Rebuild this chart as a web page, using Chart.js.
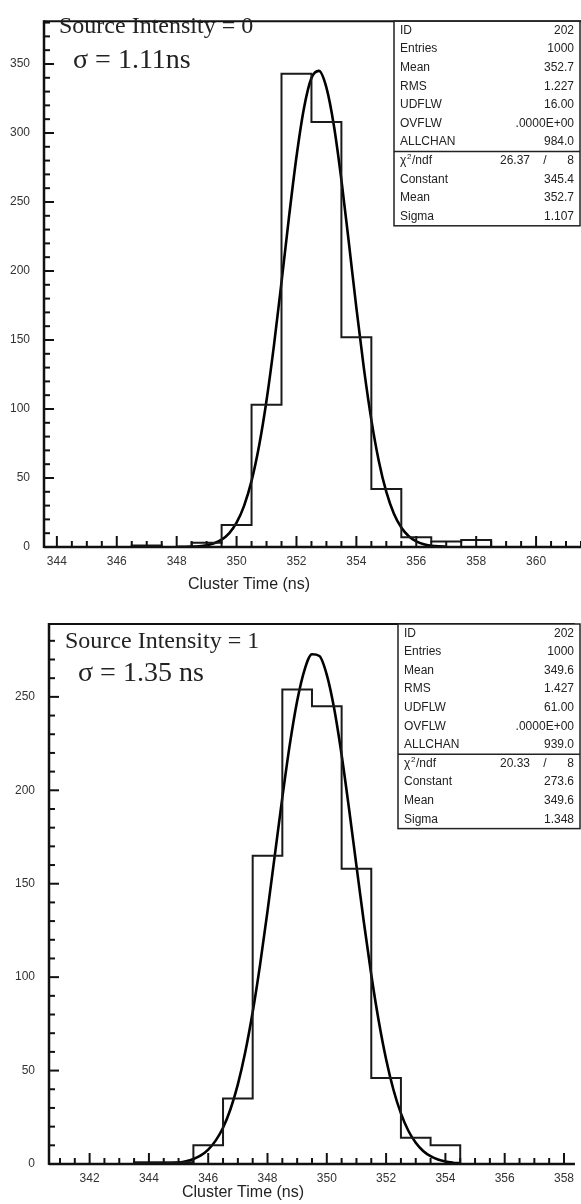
<!DOCTYPE html>
<html>
<head>
<meta charset="utf-8">
<script src="https://cdn.jsdelivr.net/npm/chart.js@4.4.1/dist/chart.umd.min.js"></script>
<style>
  html, body { margin: 0; padding: 0; background: #fff; }
  #wrap { position: relative; width: 581px; height: 1204px; overflow: hidden; }
  canvas { position: absolute; left: 0; }
</style>
</head>
<body>
<div id="wrap">
  <canvas id="topChart" width="581" height="600" style="top:0"></canvas>
  <canvas id="botChart" width="581" height="604" style="top:600px"></canvas>
</div>
<script>
// ---- top panel: Source Intensity = 0
const topBins   = [347, 348, 349, 350, 351, 352, 353, 354, 355, 356, 357, 358];
const topCounts = [1, 0, 3, 16, 103, 343, 308, 152, 42, 7, 4, 5];
const topFitX = [348.0, 348.25, 348.5, 348.75, 349.0, 349.25, 349.5, 349.75,
  350.0, 350.25, 350.5, 350.75, 351.0, 351.25, 351.5, 351.75,
  352.0, 352.25, 352.5, 352.75, 353.0, 353.25, 353.5, 353.75,
  354.0, 354.25, 354.5, 354.75, 355.0, 355.25, 355.5, 355.75,
  356.0, 356.25, 356.5, 356.75, 357.0];
const topFitY = [0.04, 0.11, 0.26, 0.59, 1.3, 2.7, 5.3, 9.9,
  17.6, 29.8, 47.9, 73.2, 106.2, 146.5, 191.9, 239.0,
  282.8, 318.0, 339.8, 345.0, 332.9, 305.3, 266.0, 220.3,
  173.3, 129.6, 92.1, 62.2, 39.9, 24.3, 14.1, 7.8,
  4.1, 2.0, 0.95, 0.43, 0.18];
const topStatValues = ['202', '1000', '352.7', '1.227', '16.00', '.0000E+00', '984.0'];
const topChi2 = ['26.37', '8'];
const topFitValues = ['345.4', '352.7', '1.107'];
const topLabel = 'Source Intensity = 0';
const topSigma = 'σ = 1.11ns';

// ---- bottom panel: Source Intensity = 1
const botBins   = [344, 345, 346, 347, 348, 349, 350, 351, 352, 353, 354];
const botCounts = [1, 1, 10, 35, 165, 254, 245, 158, 46, 14, 10];
const botFitX = [344.0, 344.25, 344.5, 344.75, 345.0, 345.25, 345.5, 345.75,
  346.0, 346.25, 346.5, 346.75, 347.0, 347.25, 347.5, 347.75,
  348.0, 348.25, 348.5, 348.75, 349.0, 349.25, 349.5, 349.75,
  350.0, 350.25, 350.5, 350.75, 351.0, 351.25, 351.5, 351.75,
  352.0, 352.25, 352.5, 352.75, 353.0, 353.25, 353.5, 353.75,
  354.0, 354.25, 354.5];
const botFitY = [0.05, 0.10, 0.21, 0.42, 0.81, 1.5, 2.7, 4.6,
  7.7, 12.5, 19.4, 29.3, 42.6, 59.9, 81.3, 106.7,
  135.3, 165.7, 196.1, 224.3, 247.8, 264.5, 272.8, 271.9,
  261.8, 243.6, 218.9, 190.1, 159.6, 129.4, 101.3, 76.7,
  56.1, 39.6, 27.1, 17.8, 11.4, 7.0, 4.2, 2.4,
  1.3, 0.71, 0.37];
const botStatValues = ['202', '1000', '349.6', '1.427', '61.00', '.0000E+00', '939.0'];
const botChi2 = ['20.33', '8'];
const botFitValues = ['273.6', '349.6', '1.348'];
const botLabel = 'Source Intensity = 1';
const botSigma = 'σ = 1.35 ns';

const statNames = ['ID', 'Entries', 'Mean', 'RMS', 'UDFLW', 'OVFLW', 'ALLCHAN'];
const fitNames = ['Constant', 'Mean', 'Sigma'];
const axisTitle = 'Cluster Time (ns)';

const SANS = '"Liberation Sans", Arial, sans-serif';
const SERIF = '"Liberation Serif", "Times New Roman", serif';

function line(ctx, x1, y1, x2, y2) {
  ctx.beginPath(); ctx.moveTo(x1, y1); ctx.lineTo(x2, y2); ctx.stroke();
}

function decorPlugin(d, L) {
  return {
    id: 'decor',
    afterDraw(chart) {
      const { ctx, chartArea: a, scales: { x, y } } = chart;
      ctx.save();
      ctx.strokeStyle = '#111';
      // frame
      ctx.lineWidth = 2;
      line(ctx, a.left, a.top, a.right, a.top);
      ctx.lineWidth = 2.5;
      line(ctx, a.left, a.top - 1, a.left, a.bottom + 1);
      line(ctx, a.left, a.bottom, a.right, a.bottom);
      // inward ticks
      ctx.lineWidth = 2;
      for (let v = 0; v <= y.max; v += 10) {
        const py = y.getPixelForValue(v);
        line(ctx, a.left, py, a.left + (v % 50 === 0 ? 10 : 6), py);
      }
      for (let v = Math.ceil(x.min * 2) / 2; v <= x.max; v += 0.5) {
        const px = x.getPixelForValue(v);
        line(ctx, px, a.bottom, px, a.bottom - (v % 2 === 0 ? 11 : 6));
      }
      // annotation texts
      ctx.fillStyle = '#222';
      ctx.textBaseline = 'alphabetic';
      ctx.textAlign = 'left';
      ctx.font = '24px ' + SERIF;
      ctx.fillText(d.label, L.labelX, L.labelY);
      ctx.font = '28px ' + SERIF;
      ctx.fillText(d.sigma, L.sigmaX, L.sigmaY);
      ctx.font = '16px ' + SANS;
      ctx.textAlign = 'center';
      ctx.textBaseline = 'middle';
      ctx.fillText(axisTitle, L.titleX, L.titleY);

      // stats box
      const bx = L.boxX, by = a.top, bw = 580 - L.boxX, rh = 18.6;
      const bh = rh * 11;
      ctx.fillStyle = '#fff';
      ctx.fillRect(bx, by, bw, bh);
      ctx.strokeStyle = '#222';
      ctx.lineWidth = 1.5;
      ctx.strokeRect(bx, by, bw, bh);
      line(ctx, bx, by + rh * 7, bx + bw, by + rh * 7);
      ctx.fillStyle = '#222';
      ctx.font = '12px ' + SANS;
      ctx.textBaseline = 'middle';
      const lx = bx + 6, rx = 574;
      statNames.forEach((n, i) => {
        const cy = by + rh * (i + 0.5);
        ctx.textAlign = 'left'; ctx.fillText(n, lx, cy);
        ctx.textAlign = 'right'; ctx.fillText(d.stats[i], rx, cy);
      });
      let cy = by + rh * 7.5;
      ctx.textAlign = 'left';
      ctx.fillText('χ', lx, cy);
      ctx.font = '8px ' + SANS;
      ctx.fillText('2', lx + 7, cy - 4);
      ctx.font = '12px ' + SANS;
      ctx.fillText('/ndf', lx + 12, cy);
      ctx.textAlign = 'right';
      ctx.fillText(d.chi2[0], 530, cy);
      ctx.textAlign = 'center';
      ctx.fillText('/', 545, cy);
      ctx.textAlign = 'right';
      ctx.fillText(d.chi2[1], rx, cy);
      fitNames.forEach((n, i) => {
        const yy = by + rh * (8.5 + i);
        ctx.textAlign = 'left'; ctx.fillText(n, lx, yy);
        ctx.textAlign = 'right'; ctx.fillText(d.fit[i], rx, yy);
      });
      ctx.restore();
    }
  };
}

function makePanel(id, d, L) {
  const canvas = document.getElementById(id);
  const H = canvas.height;
  // histogram outline from bin centres and counts
  const hist = [{ x: d.bins[0] - 0.5, y: 0 }];
  d.bins.forEach((b, i) => hist.push({ x: b - 0.5, y: d.counts[i] }));
  hist.push({ x: d.bins[d.bins.length - 1] + 0.5, y: 0 });
  const fit = d.fitX.map((x, i) => ({ x: x, y: d.fitY[i] }));

  return new Chart(canvas.getContext('2d'), {
    type: 'line',
    data: {
      datasets: [{
        data: hist,
        stepped: 'before',
        borderColor: '#1a1a1a',
        borderWidth: 2,
        pointRadius: 0,
        fill: false
      }, {
        data: fit,
        borderColor: '#000',
        borderWidth: 2.6,
        pointRadius: 0,
        cubicInterpolationMode: 'monotone',
        fill: false
      }]
    },
    options: {
      responsive: false,
      animation: false,
      layout: { padding: { top: L.top, left: 0, right: 0, bottom: 0 } },
      plugins: { legend: { display: false }, tooltip: { enabled: false } },
      scales: {
        x: {
          type: 'linear', min: L.xMin, max: L.xMax,
          afterFit(s) { s.height = H - L.bottom; },
          grid: { display: false, drawTicks: false, tickLength: 0 }, border: { display: false },
          ticks: {
            stepSize: 2, includeBounds: false, autoSkip: false, maxRotation: 0,
            padding: L.xPad, color: '#333', font: { family: SANS, size: 12 }
          }
        },
        y: {
          min: 0, max: L.yMax,
          afterFit(s) { s.width = L.left; },
          grid: { display: false, drawTicks: false, tickLength: 0 }, border: { display: false },
          ticks: {
            stepSize: 50, includeBounds: false, padding: 14,
            color: '#333', font: { family: SANS, size: 12 }
          }
        }
      }
    },
    plugins: [decorPlugin(d, L)]
  });
}

makePanel('topChart', {
  bins: topBins, counts: topCounts, fitX: topFitX, fitY: topFitY,
  stats: topStatValues, chi2: topChi2, fit: topFitValues, label: topLabel, sigma: topSigma
}, {
  top: 10, bottom: 547, left: 44, xMin: 343.57, xMax: 361.5, yMax: 381, xPad: 7,
  boxX: 394, labelX: 59, labelY: 33, sigmaX: 73, sigmaY: 68, titleX: 249, titleY: 585
});

makePanel('botChart', {
  bins: botBins, counts: botCounts, fitX: botFitX, fitY: botFitY,
  stats: botStatValues, chi2: botChi2, fit: botFitValues, label: botLabel, sigma: botSigma
}, {
  top: 24, bottom: 564, left: 49, xMin: 340.63, xMax: 358.37, yMax: 289, xPad: 7,
  boxX: 398, labelX: 65, labelY: 48, sigmaX: 78, sigmaY: 81, titleX: 243, titleY: 593
});
</script>
</body>
</html>
